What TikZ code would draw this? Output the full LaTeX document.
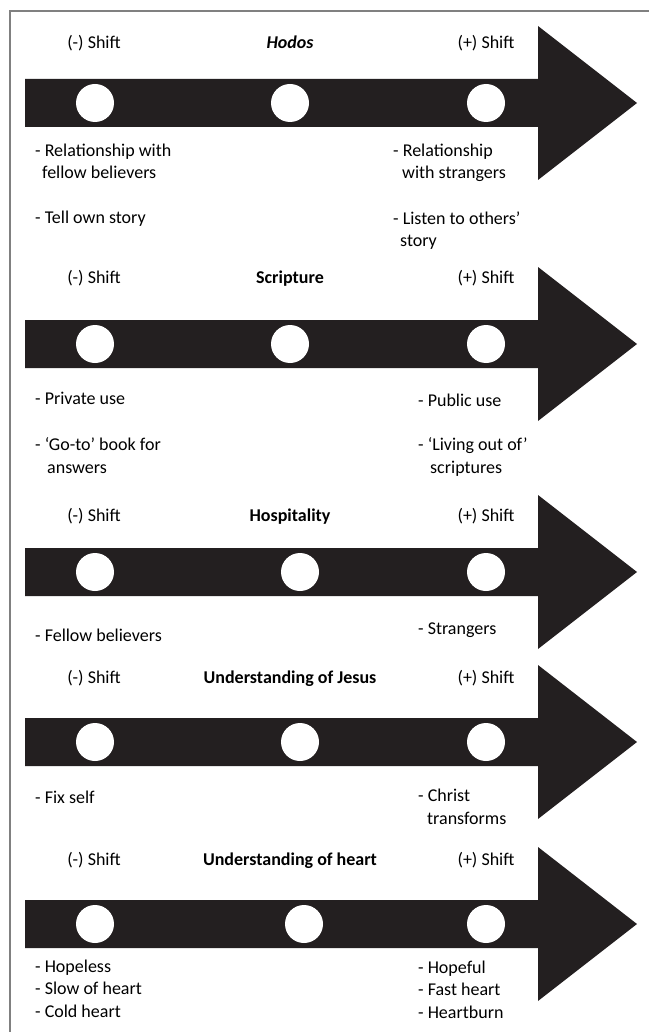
\documentclass[tikz,border=0pt]{standalone}
\usepackage{fontspec}
\setmainfont{Carlito}
\definecolor{arrowblack}{RGB}{35,31,32}
\definecolor{framegray}{RGB}{128,128,128}

\tikzset{
  dot/.style={circle,fill=white,minimum size=38pt,inner sep=0pt},
  shiftlabel/.style={inner sep=0pt,anchor=base},
  topic/.style={inner sep=0pt,anchor=base,font=\fontsize{18}{22.5}\selectfont\bfseries},
  note/.style={inner sep=0pt,anchor=base west,align=left},
}

\begin{document}
\begin{tikzpicture}[x=1pt,y=-1pt,font=\fontsize{18}{22.5}\selectfont]
  \useasboundingbox (0,0) rectangle (649,1032);
  % frame
  \draw[framegray,line width=1.2pt] (10,1032) -- (10,11) -- (649,11);

  % Hodos
  \fill[arrowblack] (25,79) -- (538,79) -- (538,26) -- (637,103) -- (538,180) -- (538,127) -- (25,127) -- cycle;
  \node[dot] (m1) at (95,103) {};
  \node[dot] (c1) at (290,103) {};
  \node[dot] (p1) at (486,103) {};
  \node[shiftlabel] (s1m) at (94,49) {(-) Shift};
  \node[topic,font=\fontsize{18}{22.5}\selectfont\bfseries\itshape] (t1) at (290,49) {Hodos};
  \node[shiftlabel] (s1p) at (486,49) {(+) Shift};
  % base anchor of a multi-line note = baseline of its last line
  \node[note] (l1a) at (35,179) {- Relationship with\\\hspace*{7pt}fellow believers};
  \node[note] (l1b) at (35,224) {- Tell own story};
  \node[note] (r1a) at (393,179) {- Relationship\\\hspace*{9pt}with strangers};
  \node[note] (r1b) at (393,247) {- Listen to others’\\\hspace*{7pt}story};

  % Scripture
  \fill[arrowblack] (25,320) -- (538,320) -- (538,267) -- (637,344) -- (538,421) -- (538,368) -- (25,368) -- cycle;
  \node[dot] (m2) at (95,344) {};
  \node[dot] (c2) at (290,344) {};
  \node[dot] (p2) at (486,344) {};
  \node[shiftlabel] (s2m) at (94,283) {(-) Shift};
  \node[topic] (t2) at (290,283) {Scripture};
  \node[shiftlabel] (s2p) at (486,283) {(+) Shift};
  \node[note] (l2a) at (35,404) {- Private use};
  \node[note] (l2b) at (35,473) {- ‘Go-to’ book for\\\hspace*{12pt}answers};
  \node[note] (r2a) at (418,406) {- Public use};
  \node[note] (r2b) at (418,473) {- ‘Living out of’\\\hspace*{12pt}scriptures};

  % Hospitality
  \fill[arrowblack] (25,548) -- (538,548) -- (538,495) -- (637,572) -- (538,649) -- (538,596) -- (25,596) -- cycle;
  \node[dot] (m3) at (95,572) {};
  \node[dot] (c3) at (300,572) {};
  \node[dot] (p3) at (486,572) {};
  \node[shiftlabel] (s3m) at (94,521) {(-) Shift};
  \node[topic] (t3) at (290,521) {Hospitality};
  \node[shiftlabel] (s3p) at (486,521) {(+) Shift};
  \node[note] (l3a) at (35,641) {- Fellow believers};
  \node[note] (r3a) at (418,634) {- Strangers};

  % Understanding of Jesus
  \fill[arrowblack] (25,718) -- (538,718) -- (538,665) -- (637,742) -- (538,819) -- (538,766) -- (25,766) -- cycle;
  \node[dot] (m4) at (95,742) {};
  \node[dot] (c4) at (300,742) {};
  \node[dot] (p4) at (486,742) {};
  \node[shiftlabel] (s4m) at (94,683) {(-) Shift};
  \node[topic] (t4) at (290,683) {Understanding of Jesus};
  \node[shiftlabel] (s4p) at (486,683) {(+) Shift};
  \node[note] (l4a) at (35,803) {- Fix self};
  \node[note] (r4a) at (418,824) {- Christ\\\hspace*{9pt}transforms};

  % Understanding of heart
  \fill[arrowblack] (25,900) -- (538,900) -- (538,847) -- (637,924) -- (538,1001) -- (538,948) -- (25,948) -- cycle;
  \node[dot] (m5) at (95,924) {};
  \node[dot] (c5) at (304,924) {};
  \node[dot] (p5) at (486,924) {};
  \node[shiftlabel] (s5m) at (94,865) {(-) Shift};
  \node[topic] (t5) at (290,865) {Understanding of heart};
  \node[shiftlabel] (s5p) at (486,865) {(+) Shift};
  \node[note] (l5a) at (35,1017) {- Hopeless\\- Slow of heart\\- Cold heart};
  \node[note] (r5a) at (418,1018) {- Hopeful\\- Fast heart\\- Heartburn};
\end{tikzpicture}
\end{document}
